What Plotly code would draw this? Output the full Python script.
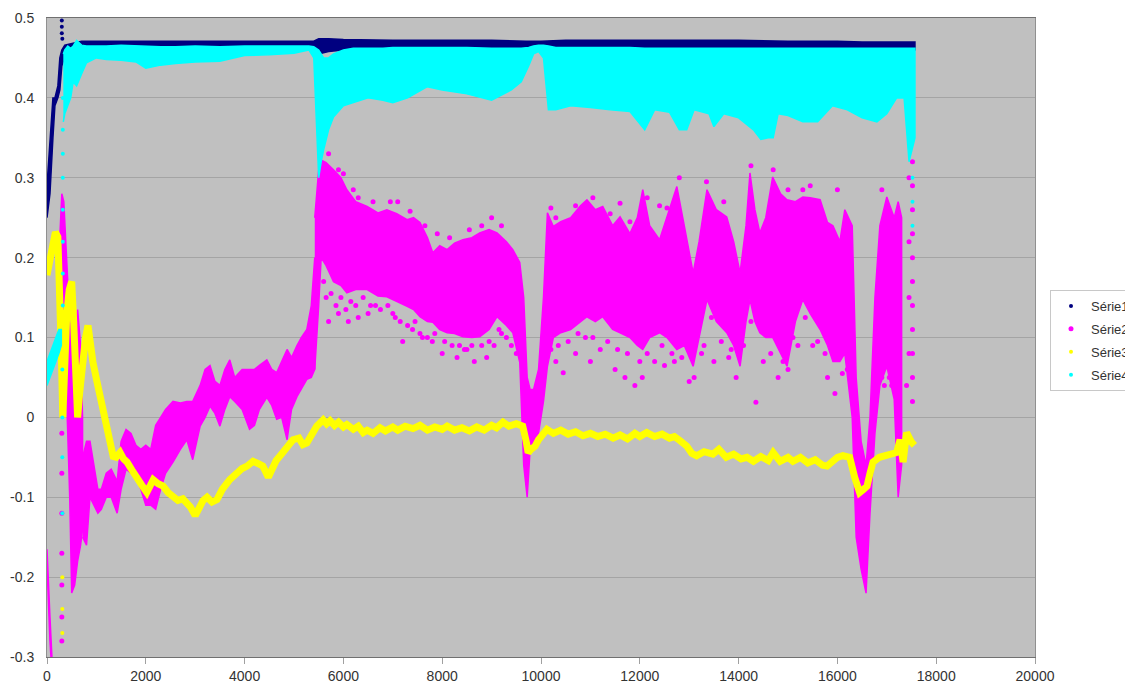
import plotly.graph_objects as go

# ---------------- data ----------------
# Série1 (navy) dense band: x, lower edge, upper edge
S1_X = [0, 60, 120, 160, 220, 260, 300, 360, 520, 700, 1000, 2000, 3000, 4000, 5000, 5400,
        5500, 5700, 6000, 7000, 8000, 9000, 9700, 10000, 10500, 11000, 12000, 13000, 14000,
        15000, 16000, 16500, 17000, 17300, 17400, 17570]
S1_LO = [0.25, 0.28, 0.35, 0.39, 0.40, 0.41, 0.44, 0.452, 0.455, 0.462, 0.464, 0.465, 0.465,
         0.465, 0.464, 0.463, 0.455, 0.458, 0.460, 0.461, 0.460, 0.461, 0.462, 0.466, 0.461,
         0.459, 0.458, 0.458, 0.457, 0.459, 0.460, 0.462, 0.462, 0.455, 0.452, 0.460]
S1_HI = [0.29, 0.35, 0.40, 0.40, 0.415, 0.45, 0.46, 0.466, 0.468, 0.471, 0.471, 0.471, 0.471,
         0.471, 0.471, 0.471, 0.474, 0.474, 0.473, 0.472, 0.472, 0.472, 0.471, 0.471, 0.472,
         0.472, 0.472, 0.472, 0.472, 0.471, 0.471, 0.470, 0.470, 0.470, 0.470, 0.470]
S1_DOT_X = [300, 300, 300, 310, 17530, 17530]
S1_DOT_Y = [0.497, 0.489, 0.481, 0.474, 0.44, 0.40]

# Série2 (magenta) dense bands, in segments
S2A_X = [0, 30, 60, 100]
S2A_LO = [-0.185, -0.23, -0.28, -0.32]
S2A_HI = [-0.165, -0.20, -0.25, -0.30]

S2B_X = [240, 300, 340, 400, 460, 500, 560, 620, 680, 720]
S2B_LO = [0.10, 0.08, 0.05, 0.02, -0.10, -0.22, -0.21, -0.18, -0.16, -0.14]
S2B_HI = [0.20, 0.28, 0.27, 0.20, 0.12, 0.11, 0.10, 0.135, 0.09, 0.0]

S2C_X = [720, 800, 870, 950, 1030, 1100, 1200, 1300, 1420, 1500, 1600, 1700, 1800, 1900,
         2000, 2100, 2200, 2300, 2400, 2550, 2700, 2830, 2950, 3100, 3200, 3300, 3400, 3500,
         3600, 3700, 3800, 3950, 4100, 4200, 4300, 4450, 4550, 4650, 4750, 4860, 4950, 5060,
         5150, 5260, 5350, 5420]
S2C_LO = [-0.15, -0.16, -0.10, -0.11, -0.12, -0.115, -0.10, -0.10, -0.12, -0.09, -0.065,
          -0.07, -0.075, -0.09, -0.11, -0.11, -0.115, -0.09, -0.07, -0.056, -0.04, -0.028,
          -0.053, -0.011, 0.0, 0.014, 0.005, -0.011, 0.01, 0.026, 0.02, 0.01, -0.015, -0.01,
          0.01, 0.025, 0.015, -0.0025, 0.0, -0.028, 0.01, 0.026, 0.035, 0.0475, 0.05, 0.06]
S2C_HI = [-0.05, -0.03, -0.03, -0.06, -0.09, -0.09, -0.07, -0.065, -0.08, -0.03, -0.015,
          -0.02, -0.035, -0.04, -0.035, -0.04, -0.01, 0.0, 0.01, 0.02, 0.018, 0.02, 0.02,
          0.04, 0.06, 0.065, 0.045, 0.04, 0.06, 0.072, 0.05, 0.06, 0.06, 0.06, 0.065, 0.072,
          0.06, 0.056, 0.07, 0.085, 0.075, 0.09, 0.10, 0.11, 0.14, 0.20]

S2D_X = [5420, 5500, 5550, 5650, 5800, 5950, 6070, 6250, 6480, 6700, 6880, 7080, 7290, 7420,
         7550, 7700, 7810, 7950, 8100, 8250, 8420, 8600, 8760, 8950, 9110, 9300, 9430, 9570,
         9650, 9720, 9780, 9850, 9950, 10050, 10130, 10250, 10400, 10600, 10800, 10930,
         11100, 11250, 11450, 11600, 11800, 11950, 12060, 12200, 12400, 12550, 12750, 12900,
         13080, 13200, 13360, 13550, 13760, 13900, 14030, 14150, 14230, 14330, 14430, 14550,
         14690, 14850, 14980, 15150, 15300, 15450, 15650, 15800, 15910, 16050, 16150, 16300,
         16380, 16480, 16580, 16660, 16760, 16860, 17000, 17150, 17230, 17300]
S2D_LO = [0.06, 0.14, 0.20, 0.19, 0.17, 0.165, 0.156, 0.16, 0.16, 0.152, 0.151, 0.145, 0.139,
          0.135, 0.126, 0.12, 0.119, 0.11, 0.106, 0.105, 0.101, 0.10, 0.101, 0.11, 0.126,
          0.115, 0.106, 0.069, -0.06, -0.10, -0.04, -0.03, -0.02, 0.02, 0.064, 0.10, 0.106,
          0.11, 0.12, 0.126, 0.12, 0.126, 0.11, 0.106, 0.10, 0.09, 0.085, 0.10, 0.106, 0.10,
          0.085, 0.09, 0.064, 0.10, 0.1475, 0.12, 0.106, 0.09, 0.064, 0.12, 0.1475, 0.12,
          0.106, 0.10, 0.10, 0.08, 0.064, 0.12, 0.1475, 0.13, 0.11, 0.09, 0.07, 0.07, 0.08,
          0.0, -0.15, -0.19, -0.22, -0.12, -0.02, 0.04, 0.064, 0.0225, -0.10, -0.06]
S2D_HI = [0.25, 0.31, 0.322, 0.319, 0.31, 0.30, 0.285, 0.27, 0.264, 0.256, 0.26, 0.255,
          0.2475, 0.25, 0.244, 0.225, 0.206, 0.215, 0.21, 0.218, 0.2225, 0.225, 0.231, 0.235,
          0.231, 0.22, 0.21, 0.194, 0.15, 0.05, 0.035, 0.035, 0.06, 0.15, 0.256, 0.239, 0.245,
          0.25, 0.265, 0.2725, 0.26, 0.264, 0.24, 0.251, 0.23, 0.25, 0.285, 0.24, 0.2225,
          0.25, 0.289, 0.24, 0.181, 0.22, 0.285, 0.26, 0.251, 0.22, 0.181, 0.24, 0.306, 0.26,
          0.231, 0.25, 0.301, 0.28, 0.2725, 0.27, 0.276, 0.275, 0.2725, 0.244, 0.24, 0.22,
          0.26, 0.24, 0.05, -0.03, -0.06, 0.0, 0.15, 0.24, 0.276, 0.25, 0.27, 0.25]

# Série2 scattered points (outliers around the dense band, dotted columns)
S2_DOT_X = [300, 300, 300, 300, 300, 300, 300,
            5600, 5650, 5700, 5750, 5850, 5900, 5950, 6050, 6100, 6150, 6250, 6300, 6400,
            6500, 6550, 6650, 6750, 6900, 7000, 7050, 7150, 7200, 7300, 7400, 7450, 7550,
            7600, 7700, 7800, 7850, 8000, 8050, 8200, 8300, 8350, 8450, 8500, 8600, 8650,
            8800, 8900, 8950, 9050, 9150, 9200, 9300, 9400, 9500,
            10200, 10300, 10350, 10450, 10550, 10700, 10750, 10900, 11000, 11050, 11200,
            11350, 11500, 11550, 11700, 11750, 11900, 12000, 12050, 12150, 12300, 12450,
            12500, 12650, 12700, 12850, 13000, 13100, 13250, 13300, 13450, 13500, 13650,
            13800, 13850, 13950, 14100, 14250, 14350, 14500, 14650, 14800, 14900, 15000,
            15100, 15200, 15350, 15500, 15600, 15750, 15800, 15950, 16100, 16200, 16900,
            16950, 17050, 17100,
            5700, 5900, 6000, 6200, 6300, 6600, 6950, 7100, 7350, 7650, 7900, 8150, 8550,
            8800, 9000, 9200, 10200, 10300, 10700, 11050, 11400, 11600, 11800, 12150, 12400,
            12550, 12800, 13350, 13700, 14250, 14700, 15000, 15300, 15450, 16000, 16900,
            17400, 17450, 17450, 17450, 17450, 17520, 17520, 17520, 17520, 17520, 17520,
            17520, 17520, 17520, 17520, 17520, 17520]
S2_DOT_Y = [-0.02, -0.07, -0.12, -0.17, -0.21, -0.25, -0.28,
            0.17, 0.15, 0.12, 0.155, 0.14, 0.13, 0.15, 0.135, 0.12, 0.145, 0.14, 0.125, 0.15,
            0.13, 0.14, 0.14, 0.135, 0.14, 0.13, 0.125, 0.12, 0.095, 0.115, 0.11, 0.12, 0.105,
            0.10, 0.10, 0.095, 0.105, 0.08, 0.095, 0.09, 0.075, 0.09, 0.085, 0.085, 0.09, 0.07,
            0.09, 0.075, 0.095, 0.09, 0.11, 0.105, 0.10, 0.09, 0.08,
            0.085, 0.07, 0.09, 0.056, 0.095, 0.08, 0.105, 0.10, 0.07, 0.10, 0.085,
            0.095, 0.06, 0.085, 0.05, 0.08, 0.04, 0.07, 0.05, 0.08, 0.07, 0.09,
            0.065, 0.08, 0.07, 0.075, 0.045, 0.05, 0.08, 0.09, 0.125, 0.07, 0.095,
            0.075, 0.085, 0.05, 0.09, 0.12, 0.019, 0.07, 0.08, 0.05, 0.07, 0.06,
            0.10, 0.09, 0.125, 0.09, 0.095, 0.08, 0.05, 0.03, 0.055, 0.06, 0.05,
            0.04, 0.05, 0.04,
            0.33, 0.31, 0.305, 0.285, 0.275, 0.27, 0.27, 0.27, 0.258, 0.24, 0.23, 0.225, 0.235,
            0.24, 0.25, 0.24, 0.262, 0.25, 0.265, 0.275, 0.255, 0.268, 0.245, 0.275, 0.265,
            0.262, 0.30, 0.295, 0.27, 0.315, 0.31, 0.285, 0.285, 0.29, 0.285, 0.285,
            0.04, 0.30, 0.22, 0.15, 0.08, 0.35, 0.32, 0.29, 0.26, 0.23, 0.20,
            0.17, 0.14, 0.11, 0.08, 0.05, 0.02]

# Série3 (yellow) line
S3_X = [0, 40, 80, 120, 170, 220, 260, 290, 320, 350, 400, 450, 500, 540, 580, 620, 660, 720,
        780, 830, 880, 930, 1000, 1070, 1140, 1210, 1280, 1340, 1400, 1480, 1550, 1620, 1720,
        1820, 1920, 2020, 2080, 2150, 2250, 2350, 2450, 2550, 2650, 2750, 2830, 2900, 3000,
        3080, 3160, 3240, 3340, 3440, 3550, 3700, 3850, 3950, 4050, 4170, 4280, 4370, 4480,
        4560, 4640, 4720, 4850, 4980, 5100, 5180, 5260, 5360, 5460, 5590, 5660, 5730, 5820,
        5900, 6000, 6070, 6200, 6300, 6400, 6480, 6600, 6740, 6850, 7000, 7100, 7250, 7410,
        7550, 7700, 7850, 8000, 8100, 8250, 8400, 8550, 8700, 8850, 9000, 9100, 9230, 9350,
        9500, 9630, 9700, 9740, 9800, 9880, 9950, 10050, 10120, 10250, 10400, 10550, 10700,
        10850, 11000, 11150, 11300, 11460, 11600, 11750, 11900, 12000, 12140, 12300, 12450,
        12600, 12700, 12810, 12950, 13050, 13150, 13300, 13480, 13600, 13750, 13900, 14050,
        14170, 14300, 14450, 14600, 14700, 14840, 15000, 15100, 15250, 15400, 15550, 15700,
        15790, 15900, 16000, 16110, 16250, 16350, 16400, 16450, 16530, 16600, 16660, 16720,
        16850, 17000, 17100, 17200, 17270, 17330, 17400, 17450, 17500, 17560]
S3_Y = [0.178, 0.19, 0.205, 0.222, 0.232, 0.226, 0.17, 0.08, 0.0, 0.06, 0.13, 0.16, 0.17,
        0.12, 0.06, 0.0, 0.03, 0.07, 0.10, 0.115, 0.09, 0.069, 0.048, 0.026, 0.005, -0.015,
        -0.036, -0.049, -0.05, -0.044, -0.052, -0.056, -0.066, -0.074, -0.085, -0.094,
        -0.085, -0.078, -0.083, -0.086, -0.094, -0.099, -0.104, -0.102, -0.106, -0.112,
        -0.123, -0.112, -0.104, -0.100, -0.106, -0.103, -0.09, -0.078, -0.068, -0.064,
        -0.061, -0.055, -0.058, -0.061, -0.075, -0.062, -0.054, -0.048, -0.038, -0.028,
        -0.026, -0.034, -0.032, -0.02, -0.011, -0.003, -0.008, -0.004, -0.01, -0.006, -0.012,
        -0.009, -0.015, -0.011, -0.019, -0.016, -0.02, -0.013, -0.017, -0.012, -0.016,
        -0.011, -0.014, -0.01, -0.016, -0.012, -0.015, -0.011, -0.016, -0.013, -0.017,
        -0.012, -0.016, -0.01, -0.013, -0.006, -0.011, -0.008, -0.011, -0.03, -0.044, -0.04,
        -0.036, -0.028, -0.018, -0.015, -0.02, -0.016, -0.021, -0.018, -0.023, -0.02, -0.024,
        -0.021, -0.026, -0.022, -0.027, -0.02, -0.024, -0.019, -0.024, -0.021, -0.026,
        -0.024, -0.029, -0.036, -0.045, -0.048, -0.043, -0.046, -0.04, -0.05, -0.046, -0.052,
        -0.05, -0.055, -0.049, -0.054, -0.044, -0.055, -0.05, -0.055, -0.05, -0.057, -0.053,
        -0.06, -0.061, -0.056, -0.05, -0.048, -0.05, -0.075, -0.086, -0.094, -0.09, -0.086,
        -0.07, -0.056, -0.05, -0.048, -0.046, -0.044, -0.028, -0.056, -0.019, -0.026, -0.031,
        -0.035]
S3_DOT_X = [310, 310, 310]
S3_DOT_Y = [-0.20, -0.24, -0.27]

# Série4 (cyan) dense bands
S4A_X = [0, 60, 120, 180, 240, 290]
S4A_LO = [0.04, 0.05, 0.06, 0.07, 0.08, 0.09]
S4A_HI = [0.07, 0.08, 0.09, 0.10, 0.11, 0.11]

S4B_X = [330, 360, 420, 480, 530, 600, 700, 800, 1000, 1200, 1500, 1800, 2000, 2300, 2600,
         3000, 3500, 4000, 4500, 5000, 5300, 5400, 5450, 5500, 5550, 5600, 5700, 5800, 6000,
         6200, 6500, 6800, 7000, 7300, 7700, 8000, 8500, 9000, 9400, 9600, 9750, 9850, 9950,
         10050, 10150, 10300, 10600, 11000, 11400, 11800, 12100, 12300, 12600, 12800, 12950,
         13100, 13400, 13500, 13700, 14000, 14300, 14450, 14600, 14700, 14800, 15000, 15300,
         15600, 15900, 16200, 16500, 16800, 17000, 17200, 17350, 17450, 17570]
S4B_LO = [0.37, 0.38, 0.39, 0.40, 0.42, 0.415, 0.43, 0.444, 0.45, 0.448, 0.447, 0.445, 0.437,
          0.441, 0.443, 0.445, 0.446, 0.453, 0.454, 0.456, 0.46, 0.45, 0.38, 0.30, 0.32,
          0.335, 0.36, 0.376, 0.39, 0.394, 0.40, 0.397, 0.394, 0.40, 0.414, 0.41, 0.405,
          0.397, 0.41, 0.42, 0.44, 0.455, 0.458, 0.45, 0.385, 0.385, 0.39, 0.388, 0.385,
          0.383, 0.36, 0.385, 0.382, 0.36, 0.36, 0.385, 0.38, 0.364, 0.38, 0.375, 0.36, 0.348,
          0.35, 0.35, 0.38, 0.378, 0.37, 0.37, 0.39, 0.385, 0.375, 0.37, 0.38, 0.40, 0.40,
          0.32, 0.35]
S4B_HI = [0.455, 0.46, 0.465, 0.462, 0.465, 0.472, 0.466, 0.465, 0.465, 0.465, 0.466, 0.465,
          0.465, 0.464, 0.464, 0.465, 0.464, 0.465, 0.465, 0.465, 0.465, 0.464, 0.462, 0.46,
          0.455, 0.45, 0.45, 0.455, 0.46, 0.462, 0.462, 0.462, 0.463, 0.463, 0.463, 0.463,
          0.463, 0.462, 0.462, 0.462, 0.463, 0.465, 0.466, 0.466, 0.465, 0.463, 0.463, 0.463,
          0.463, 0.463, 0.462, 0.462, 0.462, 0.462, 0.462, 0.462, 0.462, 0.462, 0.462, 0.462,
          0.462, 0.462, 0.462, 0.462, 0.462, 0.462, 0.462, 0.462, 0.462, 0.462, 0.462, 0.462,
          0.462, 0.462, 0.462, 0.462, 0.462]
S4_DOT_X = [320, 320, 320, 320, 320, 320, 320, 320, 310, 310, 310, 310, 17520, 17520, 17520]
S4_DOT_Y = [0.14, 0.18, 0.22, 0.26, 0.30, 0.33, 0.36, 0.40, 0.06, 0.0, -0.05, -0.12, 0.30,
            0.27, 0.24]

NAMES = ["Série1", "Série2", "Série3", "Série4"]
COLORS = ["#000080", "#FF00FF", "#FFFF00", "#00FFFF"]

Y_TICKS = [0.5, 0.4, 0.3, 0.2, 0.1, 0, -0.1, -0.2, -0.3]
Y_TEXT = ["0.5", "0.4", "0.3", "0.2", "0.1", "0", "-0.1", "-0.2", "-0.3"]
X_TICKS = [0, 2000, 4000, 6000, 8000, 10000, 12000, 14000, 16000, 18000, 20000]


def band(xs, lo, hi):
    return list(xs) + list(xs)[::-1], list(hi) + list(lo)[::-1]


fig = go.Figure()


def add_band(xs, lo, hi, color, group):
    px, py = band(xs, lo, hi)
    fig.add_trace(go.Scatter(x=px, y=py, mode="lines", fill="toself", fillcolor=color,
                             line=dict(color=color, width=1.5), hoverinfo="skip",
                             showlegend=False, legendgroup=group))


def add_dots(xs, ys, color, name, size=4):
    fig.add_trace(go.Scatter(x=xs, y=ys, mode="markers", name=name, legendgroup=name,
                             marker=dict(color=color, size=size, line=dict(width=0)),
                             showlegend=True))


# Série1
add_band(S1_X, S1_LO, S1_HI, COLORS[0], NAMES[0])
add_dots(S1_DOT_X, S1_DOT_Y, COLORS[0], NAMES[0])
# Série2
for xs, lo, hi in [(S2A_X, S2A_LO, S2A_HI), (S2B_X, S2B_LO, S2B_HI),
                   (S2C_X, S2C_LO, S2C_HI), (S2D_X, S2D_LO, S2D_HI)]:
    add_band(xs, lo, hi, COLORS[1], NAMES[1])
add_dots(S2_DOT_X, S2_DOT_Y, COLORS[1], NAMES[1], size=5)
# Série3
fig.add_trace(go.Scatter(x=S3_X, y=S3_Y, mode="lines", line=dict(color=COLORS[2], width=7),
                         hoverinfo="skip", showlegend=False, legendgroup=NAMES[2]))
add_dots(S3_DOT_X, S3_DOT_Y, COLORS[2], NAMES[2])
# Série4
for xs, lo, hi in [(S4A_X, S4A_LO, S4A_HI), (S4B_X, S4B_LO, S4B_HI)]:
    add_band(xs, lo, hi, COLORS[3], NAMES[3])
add_dots(S4_DOT_X, S4_DOT_Y, COLORS[3], NAMES[3])

# The page body adds an 8px offset; the figure is sized and placed to compensate.
W, H, OFF = 1125, 676, 8
PLOT_L, PLOT_R, PLOT_T, PLOT_B = 47, 1035, 18, 657   # plot area in window pixels

font = dict(family="Liberation Sans, Arial, sans-serif", size=14, color="#333333")

fig.update_layout(
    width=W, height=H,
    paper_bgcolor="white", plot_bgcolor="#C0C0C0",
    margin=dict(l=PLOT_L - OFF, r=W - (PLOT_R - OFF), t=PLOT_T - OFF, b=H - (PLOT_B - OFF),
                autoexpand=False),
    font=font,
    showlegend=True,
    legend=dict(x=(1050 - PLOT_L) / (PLOT_R - PLOT_L),
                y=(PLOT_B - 290) / (PLOT_B - PLOT_T),
                xanchor="left", yanchor="top",
                bgcolor="white", bordercolor="#C8C8C8", borderwidth=1,
                font=dict(family="Liberation Sans, Arial, sans-serif", size=13,
                          color="#333333"),
                itemwidth=30, traceorder="grouped", tracegroupgap=3),
    xaxis=dict(range=[0, 20000], tickvals=X_TICKS, ticktext=[str(v) for v in X_TICKS],
               showgrid=False, zeroline=False, showline=True, linecolor="#707070",
               linewidth=1, mirror=True, ticks="outside", ticklen=6, tickcolor="#A0A0A0"),
    yaxis=dict(range=[-0.3, 0.5], tickvals=Y_TICKS, ticktext=Y_TEXT,
               showgrid=True, gridcolor="#A4A4A4", gridwidth=1, zeroline=False,
               showline=True, linecolor="#909090", linewidth=1, mirror=True,
               ticks="outside", ticklen=9, tickcolor="rgba(0,0,0,0)"),
)

fig.write_html("out.html")
